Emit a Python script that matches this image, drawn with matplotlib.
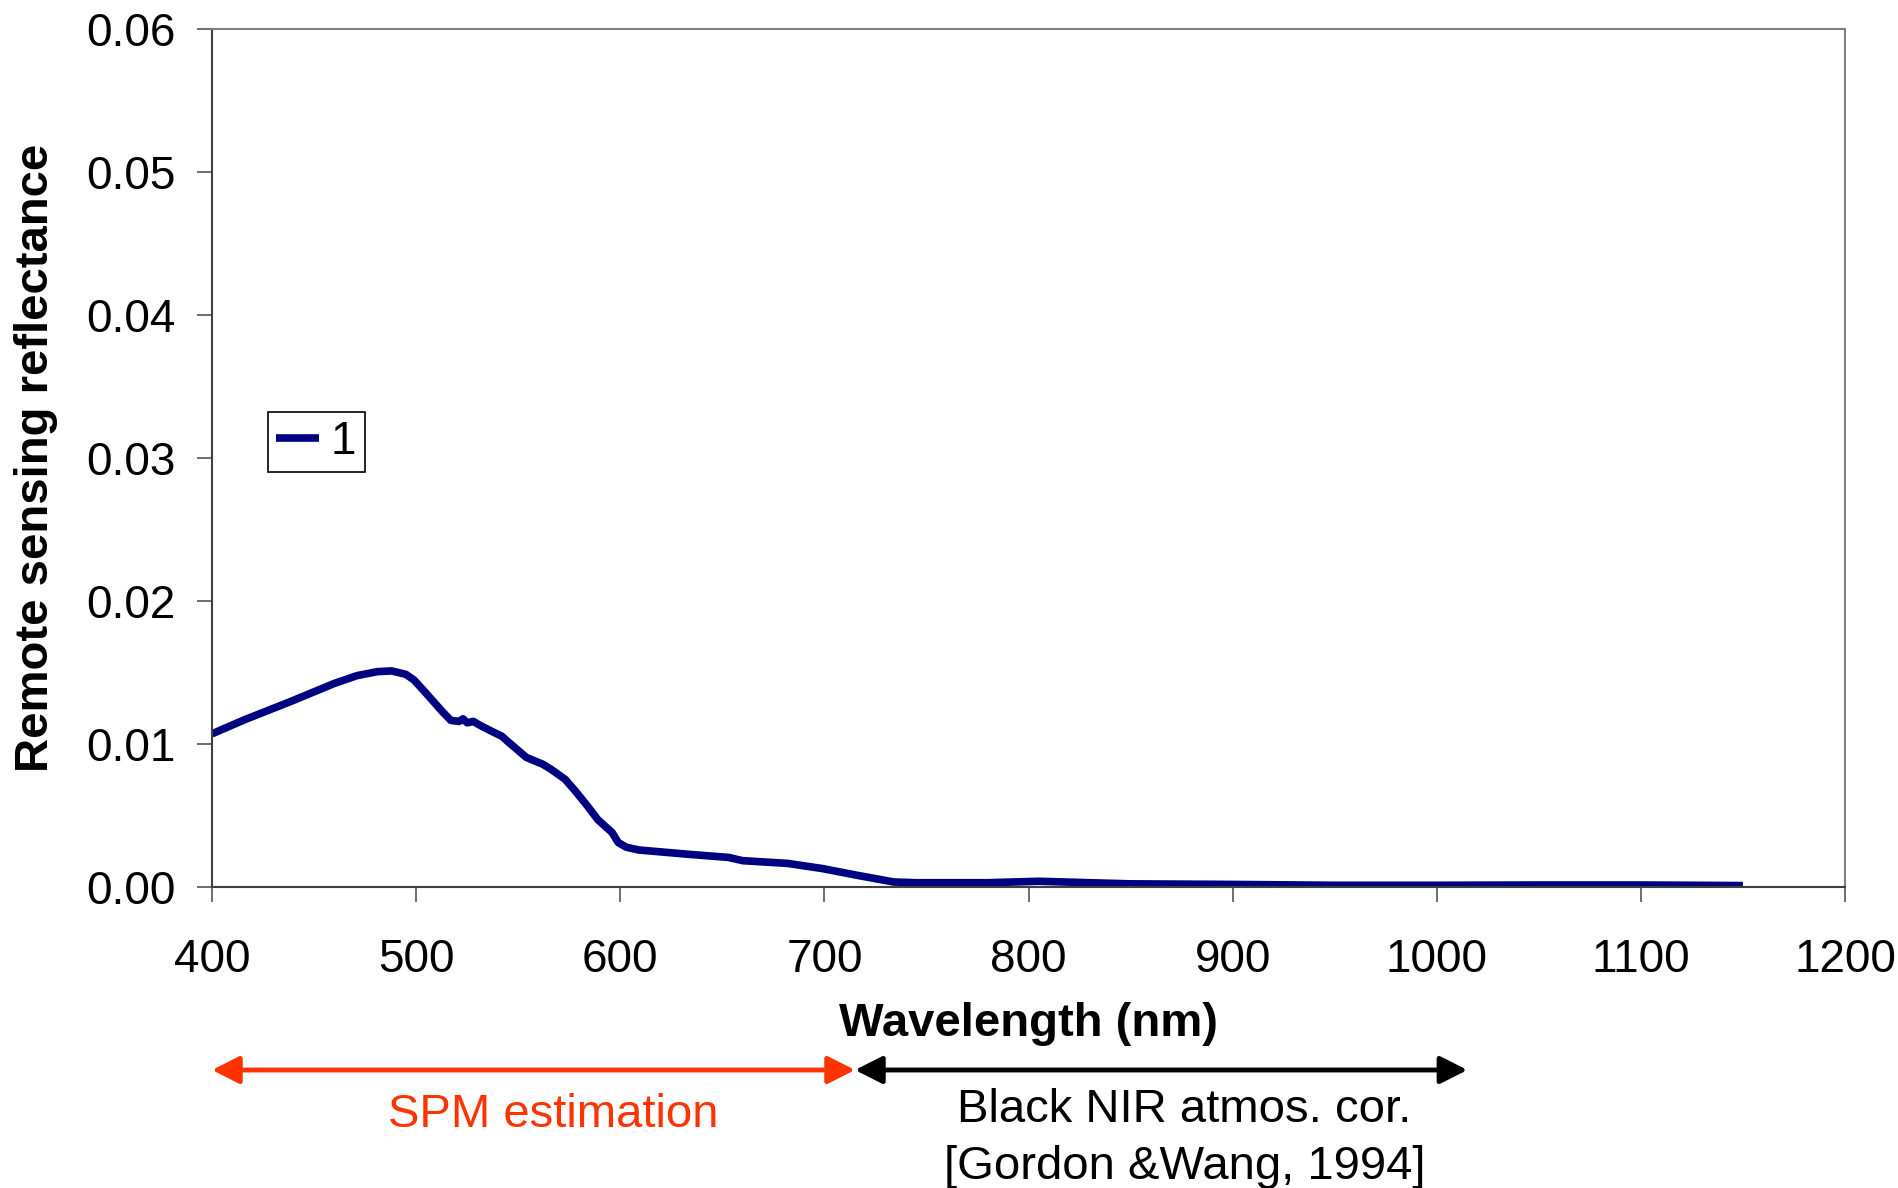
import matplotlib
matplotlib.use("Agg")
import matplotlib.pyplot as plt

plt.rcParams['font.family'] = ['Liberation Sans', 'DejaVu Sans']

wavelength = [400, 416, 438, 460, 471, 481, 488, 495, 499, 505, 513, 517, 521, 523, 525, 528,
              532, 538, 542, 545, 554, 562, 566, 573, 578, 584, 589, 596, 599, 603, 609, 634,
              653, 660, 682, 699, 716, 734, 745, 780, 805, 850, 900, 950, 1000, 1050, 1100, 1150]
rrs = [0.01071, 0.01170, 0.01294, 0.01424, 0.01478, 0.01506, 0.01511, 0.01487, 0.01447, 0.01353,
       0.01224, 0.01165, 0.01158, 0.01176, 0.01148, 0.01158, 0.01125, 0.01082, 0.01054, 0.01016,
       0.00906, 0.00859, 0.00824, 0.00753, 0.00671, 0.00565, 0.00471, 0.00381, 0.00311, 0.00278,
       0.00259, 0.00228, 0.00207, 0.00184, 0.00165, 0.00129, 0.00082, 0.00035, 0.00030, 0.00030,
       0.00040, 0.00022, 0.00018, 0.00012, 0.00012, 0.00014, 0.00014, 0.00010]
series_label = "1"
x_ticks = [400, 500, 600, 700, 800, 900, 1000, 1100, 1200]
y_ticks = [0.00, 0.01, 0.02, 0.03, 0.04, 0.05, 0.06]
spm_range = [400, 715]
nir_range = [715, 1015]

W, H = 1898, 1188
fig = plt.figure(figsize=(W / 100, H / 100), dpi=100)
ax = fig.add_axes([212 / W, 1 - 887 / H, (1845 - 212) / W, (887 - 29) / H])

ax.plot(wavelength, rrs, color='#000080', lw=5.5, label=series_label, solid_capstyle='butt')
ax.set_xlim(400, 1200)
ax.set_ylim(0, 0.06)
ax.set_xticks(x_ticks)
ax.set_yticks(y_ticks)
ax.set_yticklabels([f"{v:.2f}" for v in y_ticks])
ax.tick_params(axis='both', direction='out', labelsize=33, length=10.5, width=1.2, color='#555555')
ax.tick_params(axis='x', pad=26)
ax.tick_params(axis='y', pad=15.5)
for s in ['top', 'right']:
    ax.spines[s].set_color('#808080')
    ax.spines[s].set_linewidth(1.5)
for s in ['left', 'bottom']:
    ax.spines[s].set_color('#404040')
    ax.spines[s].set_linewidth(1.5)

ax.set_xlabel('Wavelength (nm)', fontsize=34, fontweight='bold', va='center')
ax.xaxis.set_label_coords(0.5, (887 - 1024) / 858)
ax.set_ylabel('Remote sensing reflectance', fontsize=34, fontweight='bold', va='center')
ax.yaxis.set_label_coords((36 - 212) / 1633, 0.5)

leg = ax.legend(loc='upper left', bbox_to_anchor=((267.5 - 212) / 1633, 1 - (411.6 - 29) / 858),
                borderaxespad=0, fontsize=33, fancybox=False, edgecolor='black', framealpha=1,
                handlelength=0.95, handletextpad=0.25, borderpad=0.18)
leg.get_frame().set_linewidth(1.2)

tr = ax.get_xaxis_transform()
yarr = (887 - 1070) / (887 - 29)
style = '<|-|>,head_length=0.75,head_width=0.38'
ax.annotate('', xy=(spm_range[0], yarr), xytext=(spm_range[1], yarr), xycoords=tr, textcoords=tr,
            annotation_clip=False,
            arrowprops=dict(arrowstyle=style, color='#FF3300',
                            lw=3.5, mutation_scale=22, shrinkA=0, shrinkB=0))
ax.annotate('', xy=(nir_range[0], yarr), xytext=(nir_range[1], yarr), xycoords=tr, textcoords=tr,
            annotation_clip=False,
            arrowprops=dict(arrowstyle=style, color='black',
                            lw=3.5, mutation_scale=22, shrinkA=0, shrinkB=0))

fig.text(553 / W, 1 - 1115 / H, 'SPM estimation', color='#FF3300', fontsize=34, ha='center', va='center')
fig.text(1184 / W, 1 - 1110 / H, 'Black NIR atmos. cor.', color='black', fontsize=34, ha='center', va='center')
fig.text(1185 / W, 1 - 1167 / H, '[Gordon &Wang, 1994]', color='black', fontsize=34, ha='center', va='center')

fig.savefig('out.png', dpi=100)
